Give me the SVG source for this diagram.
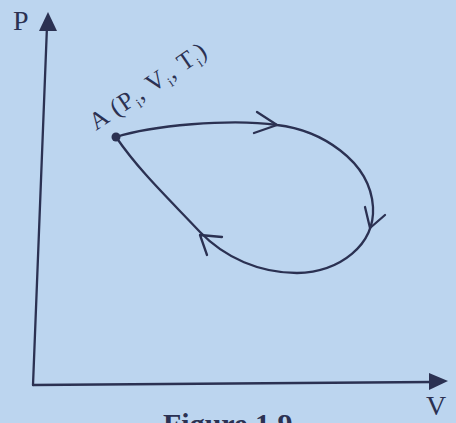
<svg xmlns="http://www.w3.org/2000/svg" width="456" height="423" viewBox="0 0 456 423">
<defs>
<style>
.ink{stroke:#2b3152;fill:none;stroke-width:2.3;stroke-linecap:round;stroke-linejoin:round}
.t{font-family:"Liberation Serif","DejaVu Serif",serif;fill:#2b3152}
</style>
</defs>
<rect width="456" height="423" fill="#bcd5ef"/>
<g id="axes">
<line class="ink" x1="33" y1="385" x2="47" y2="26"/>
<polygon points="48,12 39,31 57,31" fill="#2b3152"/>
<line class="ink" x1="33" y1="385" x2="432" y2="382"/>
<polygon points="448,381 429,373 429,390" fill="#2b3152"/>
<text class="t" x="13" y="30" font-size="28">P</text>
<text class="t" x="426" y="415" font-size="28">V</text>
</g>
<g id="cycle">
<path class="ink" d="M116,137 C150,126 230,118 277,125 C320,130 370,160 373,207 C375,245 340,272 297,273 C260,273 225,258 200,232 C170,200 140,172 116,137"/>
<polyline class="ink" points="257,112 277,125 254,133"/>
<polyline class="ink" points="365,207 370,228 385,215"/>
<polyline class="ink" points="222,237 200,235 207,255"/>
<circle cx="116" cy="137" r="4.5" fill="#2b3152"/>
</g>
<g id="label">
<text class="t" font-size="25" letter-spacing="1" transform="translate(96,131) rotate(-34)">A (P<tspan font-size="14" dy="6">i</tspan><tspan dy="-6">, V</tspan><tspan font-size="14" dy="6">i</tspan><tspan dy="-6">, T</tspan><tspan font-size="14" dy="6">i</tspan><tspan dy="-6">)</tspan></text>
</g>
<g id="caption">
<text class="t" x="163" y="434" font-size="30" font-weight="bold">Figure 1.9</text>
</g>
</svg>
